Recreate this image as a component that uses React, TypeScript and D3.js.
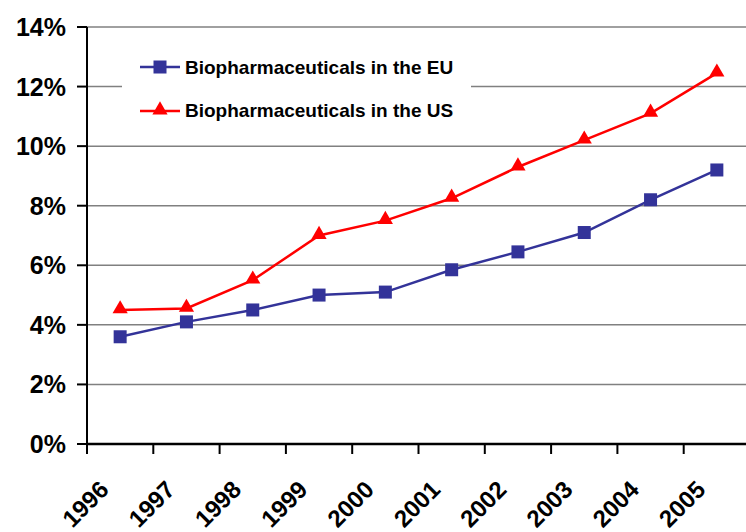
import React from "react";
import * as d3 from "d3";

const years = ["1996", "1997", "1998", "1999", "2000", "2001", "2002", "2003", "2004", "2005"];
const euValues = [3.6, 4.1, 4.5, 5.0, 5.1, 5.85, 6.45, 7.1, 8.2, 9.2];
const usValues = [4.5, 4.55, 5.5, 7.0, 7.5, 8.25, 9.3, 10.2, 11.1, 12.45];
const yTicks = [0, 2, 4, 6, 8, 10, 12, 14];
const seriesNames = ["Biopharmaceuticals in the EU", "Biopharmaceuticals in the US"];

const W = 746;
const H = 532;
const left = 87;
const top = 27;
const bottom = 444;
const right = 750;
const FONT = "Arial, 'Liberation Sans', Helvetica, sans-serif";

export default function App() {
  const x = d3.scaleBand<string>().domain(years).range([left, right]);
  const y = d3.scaleLinear().domain([0, 14]).range([bottom, top]);
  const cx = (yr: string) => (x(yr) as number) + x.bandwidth() / 2;
  const line = d3
    .line<number>()
    .x((_, i) => cx(years[i]))
    .y((d) => y(d));
  const tri = d3.symbol().type(d3.symbolTriangle).size(100);
  const triPath = tri() as string;

  const EU = "#333399";
  const US = "#FF0000";

  return (
    <svg width={W} height={H} style={{ position: "absolute", left: 0, top: 0 }} fontFamily={FONT}>
      <rect width={W} height={H} fill="#fff" />
      {yTicks.map((t) => (
        <g key={t}>
          {t > 0 && <line x1={left} x2={W} y1={y(t)} y2={y(t)} stroke="#808080" strokeWidth={1.5} />}
          <line x1={left - 10} x2={left} y1={y(t)} y2={y(t)} stroke="#000" strokeWidth={2} />
          <text x={66} y={y(t)} dy="0.36em" textAnchor="end" fontSize={25} fontWeight="bold">
            {t}%
          </text>
        </g>
      ))}
      {/* legend background */}
      <rect x={122} y={46} width={349} height={82} fill="#fff" />
      {/* axes */}
      <line x1={left} x2={left} y1={top} y2={bottom} stroke="#000" strokeWidth={2} />
      <line x1={left} x2={W} y1={bottom} y2={bottom} stroke="#000" strokeWidth={2.5} />
      {years.map((yr) => (
        <line key={yr} x1={x(yr) as number} x2={x(yr) as number} y1={bottom} y2={bottom + 10} stroke="#000" strokeWidth={2} />
      ))}
      {years.map((yr) => (
        <text
          key={"l" + yr}
          transform={`translate(${cx(yr) - 10},${491}) rotate(-45)`}
          textAnchor="end"
          fontSize={24}
          fontWeight="bold"
        >
          {yr}
        </text>
      ))}
      {/* series */}
      <path d={line(euValues) as string} fill="none" stroke={EU} strokeWidth={2.5} />
      <path d={line(usValues) as string} fill="none" stroke={US} strokeWidth={2.5} />
      {euValues.map((v, i) => (
        <rect key={"e" + i} x={cx(years[i]) - 6.5} y={y(v) - 6.5} width={13} height={13} fill={EU} />
      ))}
      {usValues.map((v, i) => (
        <path key={"u" + i} d={triPath} transform={`translate(${cx(years[i])},${y(v) - 1})`} fill={US} />
      ))}
      {/* legend */}
      <g>
        <line x1={140} x2={180} y1={67} y2={67} stroke={EU} strokeWidth={2.5} />
        <rect x={153.5} y={60.5} width={13} height={13} fill={EU} />
        <text x={185} y={74} fontSize={19} fontWeight="bold">
          {seriesNames[0]}
        </text>
        <line x1={140} x2={180} y1={111} y2={111} stroke={US} strokeWidth={2.5} />
        <path d={triPath} transform={`translate(160,${110})`} fill={US} />
        <text x={185} y={117} fontSize={19} fontWeight="bold">
          {seriesNames[1]}
        </text>
      </g>
    </svg>
  );
}
